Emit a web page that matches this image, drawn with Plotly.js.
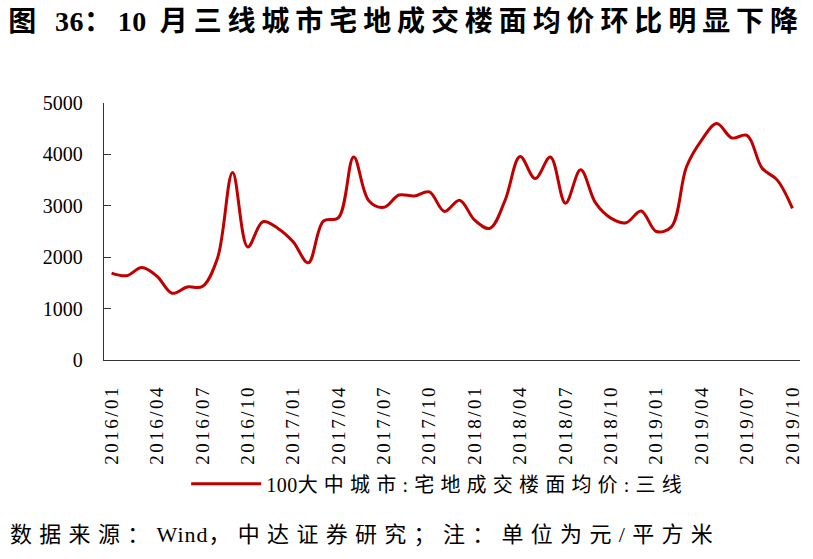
<!DOCTYPE html>
<html><head><meta charset="utf-8">
<script src="https://cdn.plot.ly/plotly-3.0.1.min.js"></script>
<style>
body{margin:0;background:#fff;}
.gtitle{letter-spacing:5.9px;}
.legendtext{letter-spacing:6.2px;}
.annotation-text{letter-spacing:7.3px;}
.xtick text{letter-spacing:2.5px;}
</style>
</head><body><div id="chart" style="width:813px;height:559px;"></div>
<script>
const months = ["2016/01","2016/02","2016/03","2016/04","2016/05","2016/06","2016/07","2016/08","2016/09","2016/10","2016/11","2016/12",
"2017/01","2017/02","2017/03","2017/04","2017/05","2017/06","2017/07","2017/08","2017/09","2017/10","2017/11","2017/12",
"2018/01","2018/02","2018/03","2018/04","2018/05","2018/06","2018/07","2018/08","2018/09","2018/10","2018/11","2018/12",
"2019/01","2019/02","2019/03","2019/04","2019/05","2019/06","2019/07","2019/08","2019/09","2019/10"];
const values = [1690,1640,1800,1630,1300,1420,1430,1980,3650,2200,
2690,2560,2300,1890,2700,2770,3950,3100,2970,3210,
3190,3270,2890,3110,2720,2560,3100,3960,3530,3950,
3050,3700,3050,2760,2670,2900,2500,2590,3760,4280,
4600,4320,4370,3730,3500,2950];
const tickLabels = ["2016/01","2016/04","2016/07","2016/10","2017/01","2017/04","2017/07","2017/10","2018/01","2018/04","2018/07","2018/10","2019/01","2019/04","2019/07","2019/10"];
const tight = s => "<span style='letter-spacing:0.5px'>" + s + "</span>";
const seriesName = tight("100") + "大中城市:宅地成交楼面均价:三线";
const titleText = "图 " + tight("36") + "：" + tight("10") + " 月三线城市宅地成交楼面均价环比明显下降";
const sourceText = "数据来源：" + "<span style='letter-spacing:1px'>Wind</span>" + "，中达证券研究；注：单位为元/平方米";

const serif = "Liberation Serif, Noto Sans CJK SC, serif";
const axisColor = "#333333";
// tick marks sit on the category boundaries before each labelled month
const boundaryTicks = tickLabels.map(l => months.indexOf(l) - 0.5);

const trace = {
  x: months, y: values, type: "scatter", mode: "lines", name: seriesName,
  line: {color: "#C00000", width: 3, shape: "spline", smoothing: 1},
  xaxis: "x", yaxis: "y"
};
const layout = {
  width: 813, height: 559,
  margin: {l: 104, r: 13, t: 103, b: 199},
  paper_bgcolor: "#fff", plot_bgcolor: "#fff",
  title: {text: titleText, x: 0.01, xanchor: "left", xref: "container", y: 0.962, yref: "container", yanchor: "middle",
    font: {family: serif, size: 28, color: "#000", weight: "bold"}},
  xaxis: {type: "category", range: [-0.5, months.length - 0.5], tickmode: "array", tickvals: tickLabels, ticktext: tickLabels,
    tickangle: -90, ticks: "", showgrid: false, zeroline: false, showline: true, linecolor: axisColor, linewidth: 1.3,
    tickfont: {family: serif, size: 19, color: "#000"}, ticklabelstandoff: 16, automargin: false},
  xaxis2: {overlaying: "x", anchor: "y", side: "bottom", range: [-0.5, months.length - 0.5], tickmode: "array", tickvals: boundaryTicks,
    ticks: "outside", ticklen: 7, tickwidth: 1.3, tickcolor: axisColor, showticklabels: false, showgrid: false, zeroline: false, showline: false},
  yaxis: {range: [0, 5000], dtick: 1000, tick0: 0, ticks: "inside", ticklen: 7, tickwidth: 1.3, tickcolor: axisColor,
    showgrid: false, zeroline: false, showline: true, linecolor: axisColor, linewidth: 1.3,
    tickfont: {family: serif, size: 20, color: "#000"}, ticklabelstandoff: 16, automargin: false},
  showlegend: true,
  legend: {orientation: "h", x: 0.118, xanchor: "left", y: -0.482, yanchor: "middle", itemwidth: 70,
    font: {family: serif, size: 20, color: "#000"}, bgcolor: "rgba(0,0,0,0)"},
  annotations: [{text: sourceText, xref: "paper", yref: "paper", x: -0.138, xanchor: "left", y: -0.68, yanchor: "middle",
    showarrow: false, font: {family: serif, size: 22, color: "#000"}}]
};
Plotly.newPlot("chart", [trace], layout, {displayModeBar: false, staticPlot: true});
</script></body></html>
